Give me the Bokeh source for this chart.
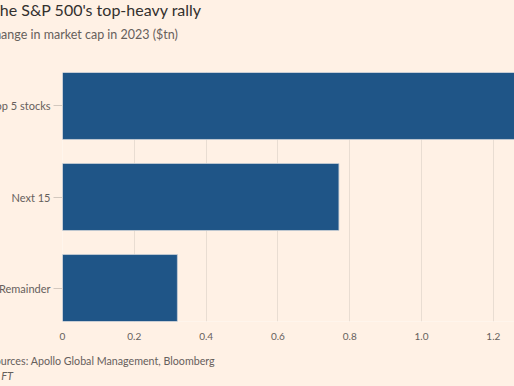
from bokeh.plotting import figure
from bokeh.models import Range1d, FixedTicker, Title
from bokeh.embed import file_html
from bokeh.resources import INLINE

# ---- data ----
categories = ["Top 5 stocks", "Next 15", "Remainder"]
values = [1.30, 0.77, 0.32]
x_ticks = [0, 0.2, 0.4, 0.6, 0.8, 1.0, 1.2]
x_tick_labels = ["0", "0.2", "0.4", "0.6", "0.8", "1.0", "1.2"]
title_text = "The S&P 500's top-heavy rally"
subtitle_text = "Change in market cap in 2023 ($tn)"
source_text = "Sources: Apollo Global Management, Bloomberg"
credit_text = "© FT"

positions = list(range(len(categories)))[::-1]

BG = "#FFF1E5"
BAR = "#1F5587"
GREY = "#66605C"
FONT = "Lato"
OX, OY = 60, 8          # part of the canvas hidden left / above the page view
W, H = 514 + OX, 386 + OY
FRAME_LEFT = 62 + OX

p = figure(width=W, height=H, output_backend="svg", toolbar_location=None,
           x_range=Range1d(0, 1.259), y_range=Range1d(-0.368, 2.368),
           min_border_left=FRAME_LEFT, min_border_right=0, min_border_top=72 + OY,
           min_border_bottom=H - (321 + OY), margin=(-OY, 0, 0, -OX))
p.background_fill_color = BG
p.border_fill_color = BG
p.outline_line_color = None

p.hbar(y=positions, right=values, left=0, height=0.736,
       fill_color=BAR, line_color="#c9d0d6", line_alpha=0.8, line_width=1)

p.ygrid.visible = False
p.xgrid.ticker = FixedTicker(ticks=x_ticks)
p.xgrid.grid_line_color = "#E9DDD2"

xa = p.xaxis[0]
xa.ticker = FixedTicker(ticks=x_ticks)
xa.major_label_overrides = dict(zip(x_ticks, x_tick_labels))
xa.axis_line_color = None
xa.major_tick_line_color = None
xa.minor_tick_line_color = None
xa.major_label_standoff = 5
xa.major_label_text_font = FONT
xa.major_label_text_font_size = "10px"
xa.major_label_text_color = GREY

ya = p.yaxis[0]
ya.ticker = FixedTicker(ticks=positions)
ya.major_label_overrides = dict(zip(positions, categories))
ya.axis_line_color = None
ya.minor_tick_line_color = None
ya.major_tick_in = 0
ya.major_tick_out = 9
ya.major_tick_line_color = "#D3C8BE"
ya.major_label_standoff = 3
ya.major_label_text_font = FONT
ya.major_label_text_font_size = "11px"
ya.major_label_text_color = GREY

def make_title(text, x, size, color, style="normal", valign="bottom", standoff=0):
    return Title(text=text, align="left", offset=x + OX - FRAME_LEFT,
                 vertical_align=valign, standoff=standoff,
                 text_font=FONT, text_font_size=size, text_font_style=style,
                 text_color=color)

# above: index 0 sits next to the plot area, the main title is outermost
p.title = make_title(title_text, -10, "16px", "#33302E", standoff=11)
p.add_layout(make_title(" ", 0, "10px", GREY, standoff=17), "above")       # spacer
p.add_layout(make_title(subtitle_text, -14.7, "12.5px", GREY), "above")
# below: axis first, then spacer, source and credit lines
p.add_layout(make_title(" ", 0, "6px", GREY, valign="top", standoff=2), "below")  # spacer
p.add_layout(make_title(source_text, -11.6, "10.7px", GREY, valign="top"), "below")
p.add_layout(make_title(credit_text, -11, "11px", GREY, "italic", valign="top"), "below")

open("out.html", "w").write(file_html(p, INLINE))
